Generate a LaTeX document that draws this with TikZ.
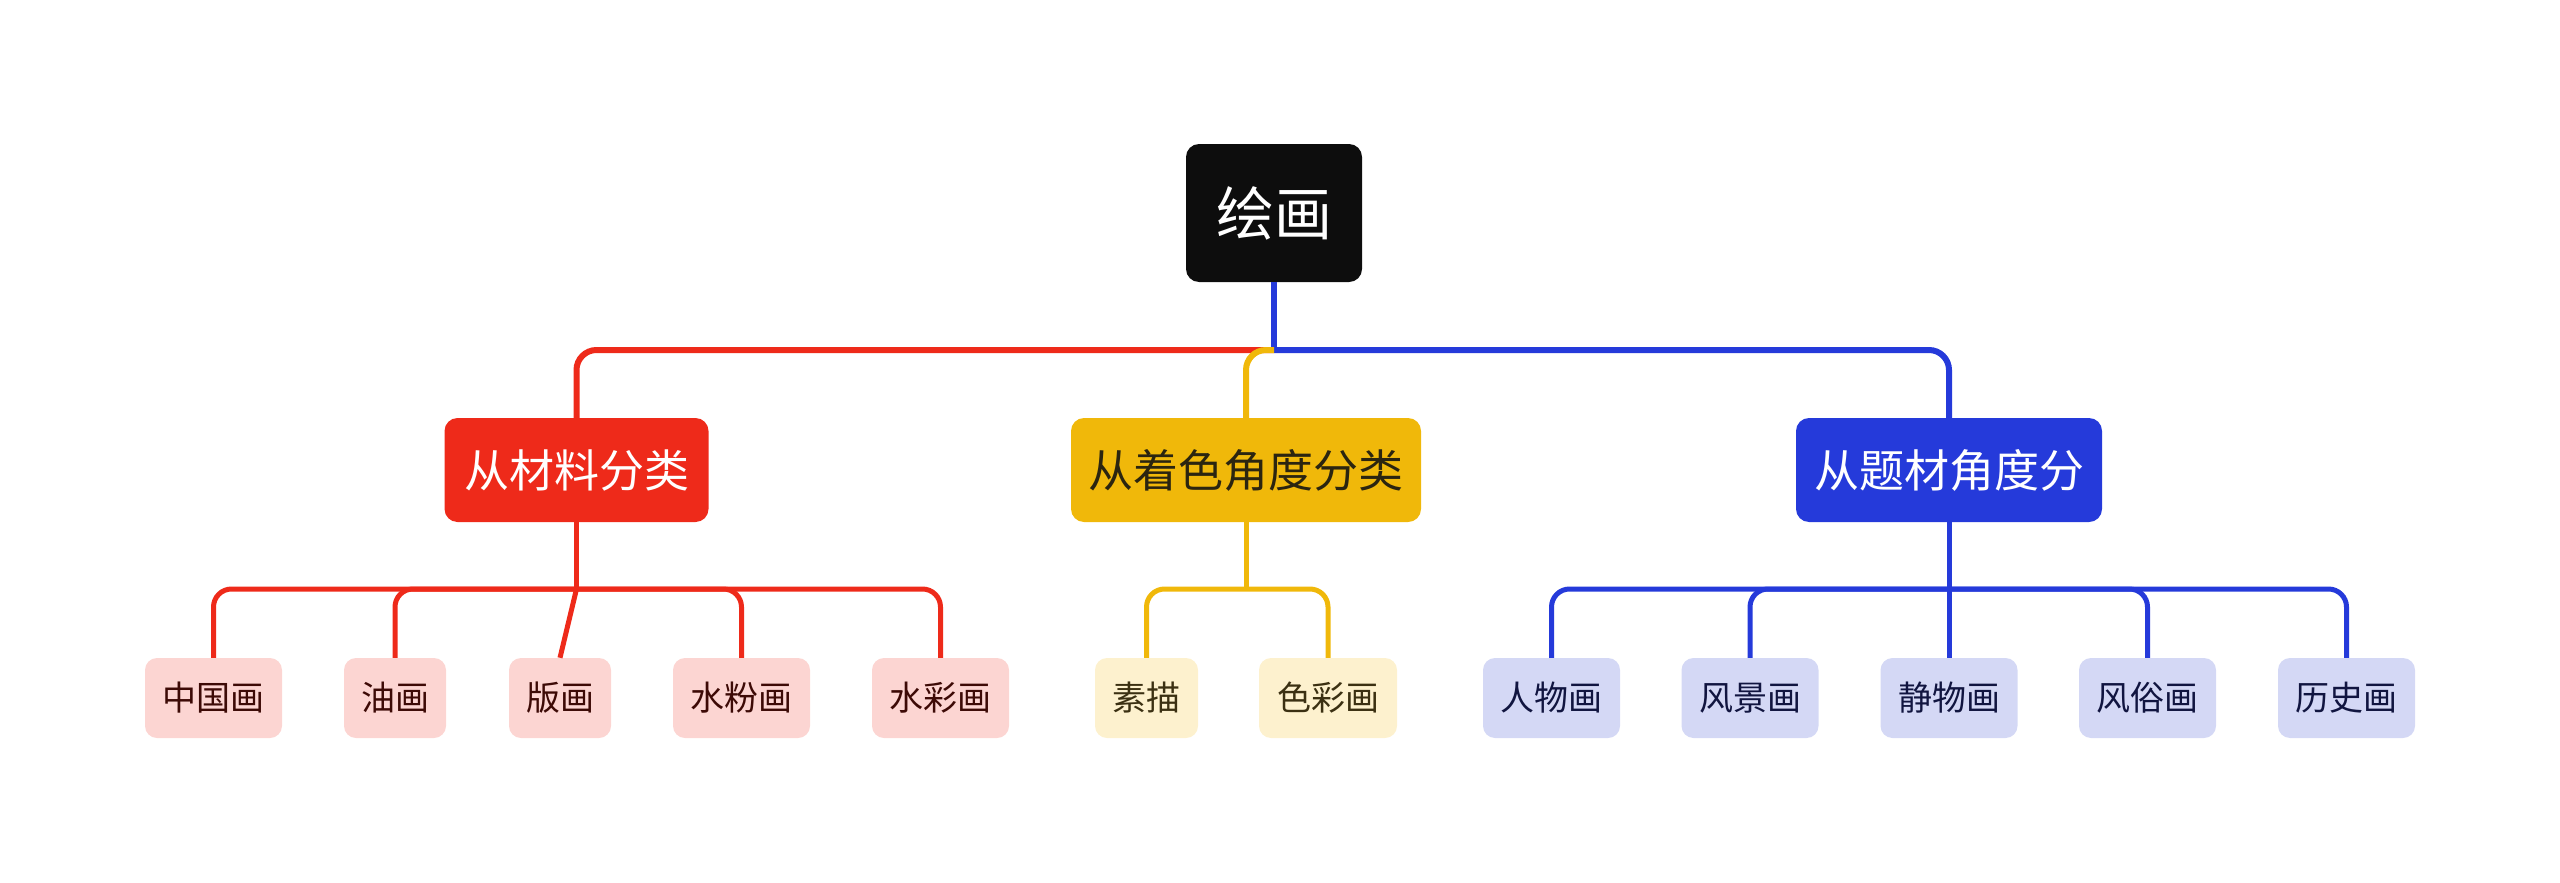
\documentclass[tikz,border=0pt]{standalone}
\usepackage{fontspec}
\newfontfamily\cjk{Noto Sans CJK SC}
\definecolor{cRoot}{RGB}{13,13,13}
\definecolor{cRed}{RGB}{238,42,26}
\definecolor{cYel}{RGB}{240,184,10}
\definecolor{cBlue}{RGB}{37,58,218}
\definecolor{lRed}{RGB}{252,213,210}
\definecolor{lYel}{RGB}{253,241,206}
\definecolor{lBlue}{RGB}{212,216,245}
\definecolor{tRed}{RGB}{61,10,6}
\definecolor{tYel}{RGB}{59,48,18}
\definecolor{tBlue}{RGB}{17,21,64}
\definecolor{tDark}{RGB}{43,37,16}
\tikzset{
  rootbox/.style={fill=cRoot, text=white, rounded corners=13pt, minimum width=176pt, minimum height=138pt, inner sep=0pt, font=\cjk\fontsize{58}{66}\selectfont},
  catbox/.style={rounded corners=13pt, minimum height=104pt, inner sep=0pt, font=\cjk\fontsize{45}{54}\selectfont},
  leafbox/.style={rounded corners=12pt, minimum height=80pt, inner sep=0pt, font=\cjk\fontsize{34}{40}\selectfont},
  mainline/.style={line width=6pt},
  subline/.style={line width=5pt},
}
\begin{document}
\begin{tikzpicture}[x=1pt,y=-1pt]
\useasboundingbox (0,0) rectangle (2560,883);
% nodes
\node[rootbox] (root) at (1274,213) {绘画};
\node[catbox, fill=cRed, text=white, minimum width=264pt] (red) at (576.5,470) {从材料分类};
\node[catbox, fill=cYel, text=tDark, minimum width=350pt] (yel) at (1246,470) {从着色角度分类};
\node[catbox, fill=cBlue, text=white, minimum width=306pt] (blue) at (1949,470) {从题材角度分};
% red leaves
\node[leafbox, fill=lRed, text=tRed, minimum width=137pt] (zgh) at (213.5,698) {中国画};
\node[leafbox, fill=lRed, text=tRed, minimum width=102pt] (yh) at (395,698) {油画};
\node[leafbox, fill=lRed, text=tRed, minimum width=102pt] (bh) at (560,698) {版画};
\node[leafbox, fill=lRed, text=tRed, minimum width=137pt] (sfh) at (741.5,698) {水粉画};
\node[leafbox, fill=lRed, text=tRed, minimum width=137pt] (sch) at (940.5,698) {水彩画};
% yellow leaves
\node[leafbox, fill=lYel, text=tYel, minimum width=103pt] (sm) at (1146.5,698) {素描};
\node[leafbox, fill=lYel, text=tYel, minimum width=138pt] (sc) at (1328,698) {色彩画};
% blue leaves
\node[leafbox, fill=lBlue, text=tBlue, minimum width=137pt] (rw) at (1551.5,698) {人物画};
\node[leafbox, fill=lBlue, text=tBlue, minimum width=137pt] (fj) at (1750,698) {风景画};
\node[leafbox, fill=lBlue, text=tBlue, minimum width=137pt] (jw) at (1949,698) {静物画};
\node[leafbox, fill=lBlue, text=tBlue, minimum width=137pt] (fs) at (2147.5,698) {风俗画};
\node[leafbox, fill=lBlue, text=tBlue, minimum width=137pt] (ls) at (2346.5,698) {历史画};
% junctions
\coordinate (j0) at (1274,350);
\coordinate (rj) at (576.5,589);
\coordinate (yj) at (1246,589);
\coordinate (bj) at (1949,589);
% main connectors
\draw[mainline, cRed, rounded corners=20pt] (j0) -| (red.north);
\draw[mainline, cBlue] (root.south) -- (j0);
\draw[mainline, cBlue, rounded corners=20pt] (j0) -| (blue.north);
\draw[mainline, cYel, rounded corners=20pt] (j0) -| (yel.north);
% red sub connectors
\draw[subline, cRed] (red.south) -- (rj);
\draw[subline, cRed] (rj) -- (bh.north);
\draw[subline, cRed, rounded corners=18pt] (zgh.north) |- (rj) -| (sch.north);
\draw[subline, cRed, rounded corners=18pt] (yh.north) |- (rj);
\draw[subline, cRed, rounded corners=18pt] (sfh.north) |- (rj);
% yellow sub connectors
\draw[subline, cYel] (yel.south) -- (yj);
\draw[subline, cYel, rounded corners=18pt] (sm.north) |- (yj) -| (sc.north);
% blue sub connectors
\draw[subline, cBlue] (blue.south) -- (jw.north);
\draw[subline, cBlue, rounded corners=18pt] (rw.north) |- (bj) -| (ls.north);
\draw[subline, cBlue, rounded corners=18pt] (fj.north) |- (bj);
\draw[subline, cBlue, rounded corners=18pt] (fs.north) |- (bj);
\end{tikzpicture}
\end{document}
